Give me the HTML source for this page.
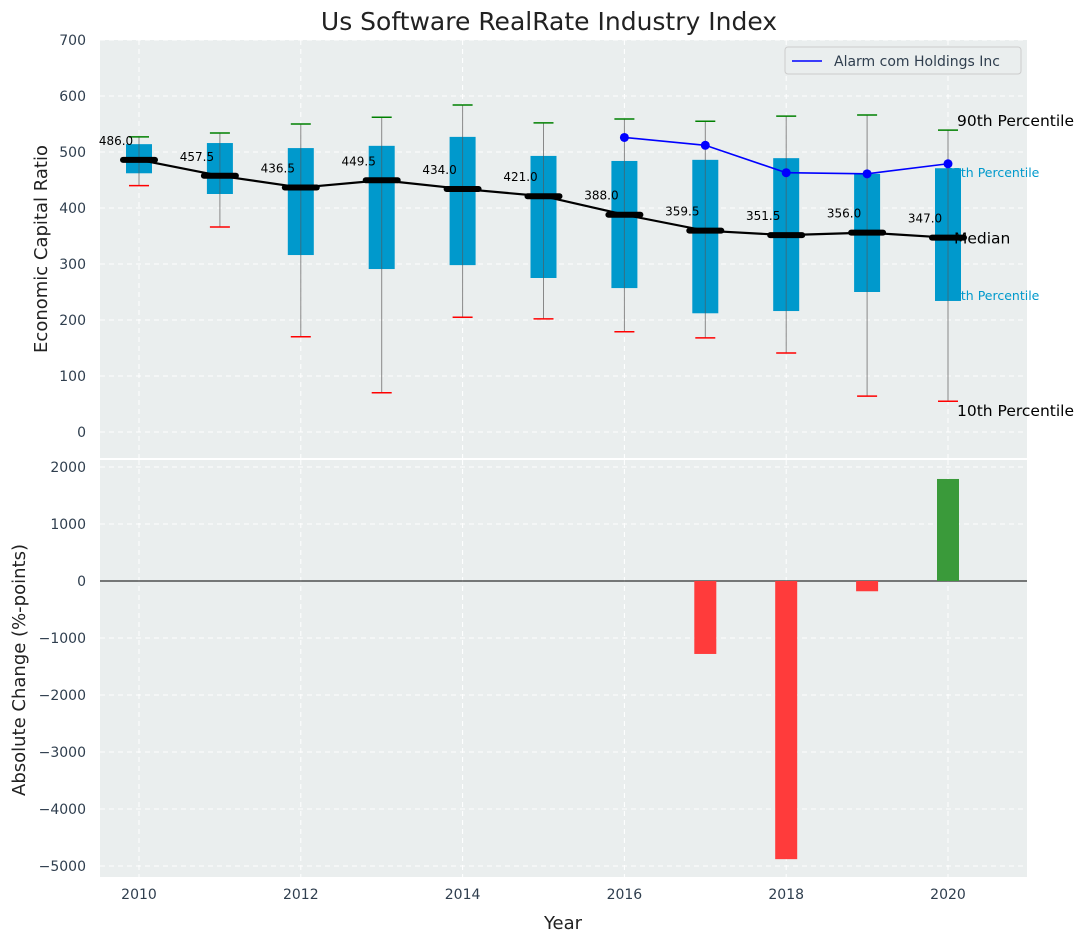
<!DOCTYPE html>
<html><head><meta charset="utf-8"><style>
body{margin:0;background:#fff;font-family:"DejaVu Sans","Liberation Sans",sans-serif}
svg{display:block}
</style></head><body>
<svg id="chart" width="1092" height="942"></svg>
<script>
const years=[2010,2011,2012,2013,2014,2015,2016,2017,2018,2019,2020];
const p10=[440,366,170,70,205,202,179,168,141,64,55];
const q25=[462,425,316,291,298,275,257,212,216,250,234];
const medians=[486,457.5,436.5,449.5,434,421,388,359.5,351.5,356,347];
const q75=[514,516,507,511,527,493,484,486,489,461,471];
const p90=[527,534,550,562,584,552,559,555,564,566,539];
const companyYears=[2016,2017,2018,2019,2020];
const companyVals=[526,512,463,461,479];
const changeYears=[2017,2018,2019,2020];
const changeVals=[-1280,-4880,-180,1790];
const topTicks=[0,100,200,300,400,500,600,700];
const botTicks=[-5000,-4000,-3000,-2000,-1000,0,1000,2000];
const xTicks=[2010,2012,2014,2016,2018,2020];

const NS="http://www.w3.org/2000/svg";
const svg=document.getElementById('chart');
function el(tag,attrs,parent,text){const e=document.createElementNS(NS,tag);for(const k in attrs)e.setAttribute(k,attrs[k]);if(text!==undefined)e.textContent=text;(parent||svg).appendChild(e);return e;}
const L=100,R=1027,T1=40,B1=458,T2=460,B2=877;
const x=v=>139+(v-2010)*80.9;
const y1=v=>432-v*0.56;
const y2=v=>581-v*0.057;

let g;
g=el('rect',{x:L,y:T1,width:R-L,height:B1-T1,fill:'#eaeeee'});

g=el('rect',{x:L,y:T2,width:R-L,height:B2-T2,fill:'#eaeeee'});


xTicks.forEach(t=>{
  [[T1,B1],[T2,B2]].forEach(([a,b])=>{el('line',{x1:x(t),x2:x(t),y1:a,y2:b,stroke:'#fff','stroke-dasharray':'5,4','stroke-width':1});});
  g=el('text',{x:x(t),y:899,'text-anchor':'middle','font-size':14,fill:'#2f3e4e'},null,t);
  
});
topTicks.forEach(t=>{
  el('line',{x1:L,x2:R,y1:y1(t),y2:y1(t),stroke:'#fff','stroke-dasharray':'5,4'});
  g=el('text',{x:86,y:y1(t)+5,'text-anchor':'end','font-size':14,fill:'#2f3e4e'},null,t);
  
});
botTicks.forEach(t=>{
  el('line',{x1:L,x2:R,y1:y2(t),y2:y2(t),stroke:'#fff','stroke-dasharray':'5,4'});
  g=el('text',{x:86,y:y2(t)+5,'text-anchor':'end','font-size':14,fill:'#2f3e4e'},null,t<0?'\u2212'+(-t):t);
  
});

const lx=x(2020)+9;
[['75th Percentile',y1(q75[10])+9],['25th Percentile',y1(q25[10])-1]].forEach(([t,yy])=>{
  g=el('text',{x:lx-12,y:yy,'font-size':12.5,fill:'#0099cc'},null,t);
  
});

years.forEach((yr,i)=>{
  const cx=x(yr);
  g=el('line',{x1:cx,x2:cx,y1:y1(p90[i]),y2:y1(p10[i]),stroke:'#888','stroke-width':1});
  
  g=el('rect',{x:cx-13,y:y1(q75[i]),width:26,height:y1(q25[i])-y1(q75[i]),fill:'#0099cc'});
  
  el('line',{x1:cx,x2:cx,y1:y1(q75[i]),y2:y1(q25[i]),stroke:'#555','stroke-width':1,opacity:0.6});
  g=el('line',{x1:cx-10,x2:cx+10,y1:y1(p90[i]),y2:y1(p90[i]),stroke:'#008000','stroke-width':1.5});
  
  g=el('line',{x1:cx-10,x2:cx+10,y1:y1(p10[i]),y2:y1(p10[i]),stroke:'#ff0000','stroke-width':1.5});
  
});
g=el('polyline',{points:years.map((yr,i)=>x(yr)+','+y1(medians[i])).join(' '),fill:'none',stroke:'#000','stroke-width':2.2});

years.forEach((yr,i)=>{
  g=el('line',{x1:x(yr)-16,x2:x(yr)+16,y1:y1(medians[i]),y2:y1(medians[i]),stroke:'#000','stroke-width':6,'stroke-linecap':'round'});
  
  g=el('text',{x:x(yr)-23,y:y1(medians[i])-15,'text-anchor':'middle','font-size':12,fill:'#000'},null,medians[i].toFixed(1));
  
});
g=el('polyline',{points:companyYears.map((yr,i)=>x(yr)+','+y1(companyVals[i])).join(' '),fill:'none',stroke:'#0000ff','stroke-width':1.6});

companyYears.forEach((yr,i)=>{
  g=el('circle',{cx:x(yr),cy:y1(companyVals[i]),r:4.5,fill:'#0000ff'});
  
});
[['90th Percentile',y1(p90[10])-4],['Median',y1(medians[10])+6],['10th Percentile',y1(p10[10])+15]].forEach(([t,yy])=>{
  g=el('text',{x:t==='Median'?lx-3:lx,y:yy,'font-size':15.5,fill:'#000'},null,t);
  
});
g=el('g',{});
el('rect',{x:785,y:47,width:236,height:27,fill:'#eaeeee',stroke:'#ccc',rx:3},g);
el('line',{x1:792,x2:822,y1:61,y2:61,stroke:'#0000ff','stroke-width':1.6},g);
el('text',{x:834,y:66,'font-size':14,fill:'#2f3e4e'},g,'Alarm com Holdings Inc');

el('line',{x1:L,x2:R,y1:y2(0),y2:y2(0),stroke:'#000','stroke-width':1});
changeYears.forEach((yr,i)=>{
  const v=changeVals[i];
  g=el('rect',{x:x(yr)-11,y:Math.min(y2(v),y2(0)),width:22,height:Math.abs(y2(v)-y2(0)),fill:v<0?'#ff3b3b':'#3a9a3a'});
  
});
g=el('text',{x:549,y:30,'text-anchor':'middle','font-size':25,fill:'#222'},null,'Us Software RealRate Industry Index');

g=el('text',{x:563,y:929,'text-anchor':'middle','font-size':18,fill:'#222'},null,'Year');

g=el('text',{x:0,y:0,'text-anchor':'middle','font-size':18,fill:'#222',transform:'translate(47,249) rotate(-90)'},null,'Economic Capital Ratio');

g=el('text',{x:0,y:0,'text-anchor':'middle','font-size':18,fill:'#222',transform:'translate(25,670) rotate(-90)'},null,'Absolute Change (%-points)');

</script>
</body></html>
